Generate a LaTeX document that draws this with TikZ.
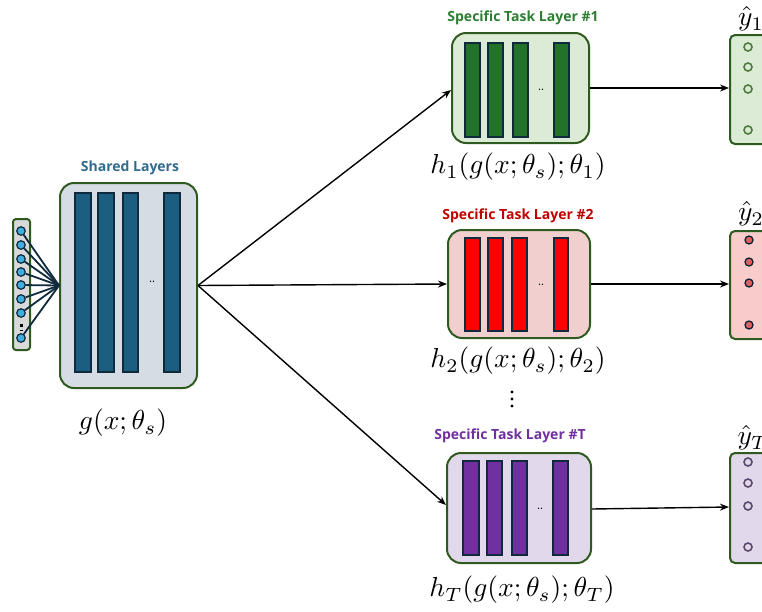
\documentclass[tikz,border=0pt]{standalone}
\usepackage{fontspec}
\newfontfamily\titlefont{Open Sans}
\usetikzlibrary{arrows.meta}
\newcommand\mlbl[1]{\scalebox{2.75}{$#1$}}
\definecolor{frame}{HTML}{2F5A1F}
\definecolor{sharedfill}{HTML}{D5DCE4}
\definecolor{sharedbar}{HTML}{1B5E80}
\definecolor{barline}{HTML}{0F2A3C}
\definecolor{sharedtitle}{HTML}{2E6B8E}
\definecolor{infill}{HTML}{D9D9D9}
\definecolor{incirc}{HTML}{3FAEE0}
\definecolor{gfill}{HTML}{DCEBD5}
\definecolor{gbar}{HTML}{22722A}
\definecolor{gtitle}{HTML}{2E7D32}
\definecolor{gcirc}{HTML}{4E7A3E}
\definecolor{rfill}{HTML}{F2CFCF}
\definecolor{rbar}{HTML}{FF0000}
\definecolor{rtitle}{HTML}{C00000}
\definecolor{routfill}{HTML}{F9CCCC}
\definecolor{rcirc}{HTML}{E06060}
\definecolor{pfill}{HTML}{E2D8EC}
\definecolor{pbar}{HTML}{7030A0}
\definecolor{ptitle}{HTML}{7030A0}
\definecolor{pcirc}{HTML}{5A4A6A}
\begin{document}
\begin{tikzpicture}[x=1pt,y=-1pt,
  bigbox/.style={draw=frame,line width=2pt,rounded corners=14pt,inner sep=0pt},
  outbox/.style={draw=frame,line width=2pt,rounded corners=5pt,inner sep=0pt},
  barbox/.style={draw=barline,line width=1.5pt,inner sep=0pt},
  ttl/.style={font=\titlefont\bfseries\fontsize{14}{16}\selectfont},
  mathlbl/.style={inner sep=0pt},
  dotsl/.style={font=\bfseries\small,inner sep=0pt},
  conn/.style={-{Stealth[length=9pt,width=7pt]},line width=1.4pt},
  incircle/.style={circle,draw=barline,fill=incirc,line width=1.2pt,minimum size=8.5pt,inner sep=0pt},
  ocircle/.style={circle,line width=1.6pt,minimum size=8pt,inner sep=0pt}
]
\useasboundingbox (0,0) rectangle (762,611);

% ---------- input column ----------
\node[outbox,fill=infill,minimum width=17pt,minimum height=131pt,rounded corners=3pt] (inp) at (21.5,284.5) {};
\foreach \i/\yy in {1/231,2/245,3/259,4/272,5/285,6/299,7/313,8/338}{
  \node[incircle] (i\i) at (21,\yy) {};
}
\fill (19.5,323.5) rectangle (22.5,326.5);
\draw[line width=1pt] (19.5,330) -- (22.5,330);

% ---------- shared box ----------
\node[bigbox,fill=sharedfill,minimum width=137pt,minimum height=205pt] (shared) at (128.5,285.5) {};
\foreach \a/\b [count=\k] in {75/91,98/114,123/138,164/180}{
  \node[barbox,fill=sharedbar,minimum width=\b pt-\a pt,minimum height=179pt] (sb\k) at ({(\a+\b)/2},282.5) {};
}
\node[dotsl] (sdots) at (152,282) {..};
\node[ttl,text=sharedtitle] (stitle) at (130,168) {Shared Layers};
\node[mathlbl] (slabel) at (123,423) {\mlbl{g(x;\theta_s)}};

\foreach \i in {1,...,8}{
  \draw[barline,line width=1.8pt] (i\i) -- (shared.west);
}

% ---------- task 1 ----------
\node[bigbox,fill=gfill,minimum width=137pt,minimum height=110pt] (t1) at (520.5,88) {};
\foreach \a/\b [count=\k] in {465/480,488/503,513/528,554/569}{
  \node[barbox,fill=gbar,minimum width=\b pt-\a pt,minimum height=94pt] (t1b\k) at ({(\a+\b)/2},90) {};
}
\node[dotsl] (t1dots) at (541,90) {..};
\node[ttl,text=gtitle] (t1title) at (523,18) {Specific Task Layer \#1};
\node[mathlbl] (t1label) at (518,167) {\mlbl{h_1(g(x;\theta_s);\theta_1)}};
\node[outbox,fill=gfill,minimum width=40pt,minimum height=109pt] (o1) at (750,89.5) {};
\foreach \i/\yy in {1/47,2/67,3/89,4/130}{
  \node[ocircle,draw=gcirc,fill=gfill] (o1c\i) at (748,\yy) {};
}
\node[mathlbl] (y1) at (751,19) {\mlbl{\hat{y}_1}};

% ---------- task 2 ----------
\node[bigbox,fill=rfill,minimum width=142pt,minimum height=108pt] (t2) at (519,284) {};
\foreach \a/\b [count=\k] in {465/480,488/503,512/527,554/568}{
  \node[barbox,fill=rbar,minimum width=\b pt-\a pt,minimum height=93pt] (t2b\k) at ({(\a+\b)/2},284.5) {};
}
\node[dotsl] (t2dots) at (541,285) {..};
\node[ttl,text=rtitle] (t2title) at (518,216) {Specific Task Layer \#2};
\node[mathlbl] (t2label) at (518,361) {\mlbl{h_2(g(x;\theta_s);\theta_2)}};
\node[outbox,fill=routfill,minimum width=40pt,minimum height=108pt] (o2) at (750,285) {};
\foreach \i/\yy in {1/240,2/262,3/283,4/325}{
  \node[ocircle,draw=barline!80!black,fill=rcirc,line width=1.3pt] (o2c\i) at (749,\yy) {};
}
\node[mathlbl] (y2) at (751,214) {\mlbl{\hat{y}_2}};

% vertical dots
\foreach \yy in {392,399,406}{
  \fill (512,\yy) circle (1.6pt);
}

% ---------- task T ----------
\node[bigbox,fill=pfill,minimum width=144pt,minimum height=110pt] (tT) at (519,508) {};
\foreach \a/\b [count=\k] in {463/479,487/502,512/527,553/568}{
  \node[barbox,fill=pbar,minimum width=\b pt-\a pt,minimum height=94pt] (tTb\k) at ({(\a+\b)/2},508) {};
}
\node[dotsl] (tTdots) at (540,509) {..};
\node[ttl,text=ptitle] (tTtitle) at (510,436) {Specific Task Layer \#T};
\node[mathlbl] (tTlabel) at (522,590) {\mlbl{h_T(g(x;\theta_s);\theta_T)}};
\node[outbox,fill=pfill,minimum width=40pt,minimum height=110pt] (oT) at (750,508) {};
\foreach \i/\yy in {1/462,2/483,3/506,4/547}{
  \node[ocircle,draw=pcirc,fill=pfill] (oTc\i) at (748,\yy) {};
}
\node[mathlbl] (yT) at (753,438) {\mlbl{\hat{y}_T}};

% ---------- connectors ----------
\coordinate (sh) at (shared.east);
\draw[conn] (sh) -- (t1.west |- 0,90) coordinate (t1in);
\draw[conn] (sh) -- (t2.west);
\draw[conn] (sh) -- (tT.west |- 0,505);
\draw[conn] (t1.east |- 0,88) -- (o1.west |- 0,88);
\draw[conn] (t2.east) -- (o2.west |- 0,284);
\draw[conn] (tT.east |- 0,509) -- (oT.west |- 0,507);
\end{tikzpicture}
\end{document}
